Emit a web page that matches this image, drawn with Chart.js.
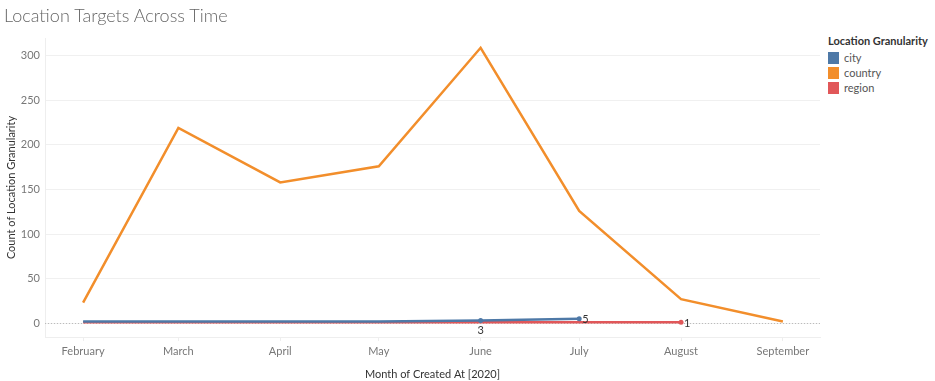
<!DOCTYPE html>
<html>
<head>
<meta charset="utf-8">
<script src="https://cdn.jsdelivr.net/npm/chart.js@4"></script>
<style>
  body { margin: 0; background: #fff; font-family: Lato, "Open Sans", sans-serif; }
  #wrap { position: relative; width: 935px; height: 381px; overflow: hidden; }
  #title { position: absolute; left: 4px; top: 4px; font-size: 18px; color: #666; font-weight: 300; }
  #chartBox { position: absolute; left: 0; top: 0; width: 822px; height: 381px; }
  #legend { position: absolute; left: 828px; top: 34px; font-size: 11px; color: #555; }
  #legend .head { font-weight: bold; color: #333; margin-bottom: 3px; }
  #legend .item { display: flex; align-items: center; height: 15px; }
  #legend .sw { width: 11px; height: 12px; margin-right: 5px; }
</style>
</head>
<body>
<div id="wrap">
  <div id="chartBox"><canvas id="trendChart" width="822" height="381"></canvas></div>
  <div id="title">Location Targets Across Time</div>
  <div id="legend"></div>
</div>
<script>
// Months and their day-of-year offset (2020) so the axis spacing follows calendar days
const months = ['February', 'March', 'April', 'May', 'June', 'July', 'August', 'September'];
const monthDays = [31, 60, 91, 121, 152, 182, 213, 244];

const cityCounts = [2, 2, 2, 2, 3, 5, null, null];
const countryCounts = [23, 219, 158, 176, 309, 126, 27, 2];
const regionCounts = [1, 1, 1, 1, 1, 1, 1, null];

// which points get a visible value label
const cityLabels = [false, false, false, false, true, true, false, false];
const regionLabels = [false, false, false, false, false, false, true, false];

const yTicks = [0, 50, 100, 150, 200, 250, 300];

const seriesNames = ['city', 'country', 'region'];
const seriesColors = ['#4e79a7', '#f28e2b', '#e15759'];

function toPoints(values) {
    return values.map((v, i) => ({ x: monthDays[i], y: v }));
}

// legend
const legend = document.getElementById('legend');
legend.innerHTML = '<div class="head">Location Granularity</div>' +
    seriesNames.map((n, i) => `<div class="item"><span class="sw" style="background:${seriesColors[i]}"></span>${n}</div>`).join('');

// draws the small value labels next to marked points
const valueLabels = {
    id: 'valueLabels',
    afterDatasetsDraw(chart) {
        const ctx = chart.ctx;
        ctx.save();
        ctx.font = '11px Lato, sans-serif';
        ctx.fillStyle = '#333';
        chart.data.datasets.forEach((ds, di) => {
            if (!ds.showLabels) return;
            const meta = chart.getDatasetMeta(di);
            meta.data.forEach((pt, i) => {
                if (!ds.showLabels[i]) return;
                const v = ds.data[i].y;
                if (ds.labelBelow && ds.labelBelow[i]) {
                    ctx.textAlign = 'center';
                    ctx.textBaseline = 'top';
                    ctx.fillText(v, pt.x, pt.y + 4);
                } else {
                    ctx.textAlign = 'left';
                    ctx.textBaseline = 'middle';
                    ctx.fillText(v, pt.x + 3, pt.y + 1);
                }
            });
        });
        ctx.restore();
    }
};

const ctx = document.getElementById('trendChart').getContext('2d');
new Chart(ctx, {
    type: 'line',
    data: {
        datasets: [
            {
                label: 'region',
                data: toPoints(regionCounts),
                borderColor: seriesColors[2],
                backgroundColor: seriesColors[2],
                borderWidth: 2.5,
                pointRadius: regionLabels.map(s => s ? 2.5 : 0),
                pointBorderWidth: 0,
                showLabels: regionLabels,
                order: 3
            },
            {
                label: 'city',
                data: toPoints(cityCounts),
                borderColor: seriesColors[0],
                backgroundColor: seriesColors[0],
                borderWidth: 2.5,
                pointRadius: cityLabels.map(s => s ? 2.5 : 0),
                pointBorderWidth: 0,
                showLabels: cityLabels,
                labelBelow: [false, false, false, false, true, false, false, false],
                order: 2
            },
            {
                label: 'country',
                data: toPoints(countryCounts),
                borderColor: seriesColors[1],
                backgroundColor: seriesColors[1],
                borderWidth: 2.5,
                pointRadius: 0,
                order: 1
            }
        ]
    },
    options: {
        responsive: false,
        animation: false,
        maintainAspectRatio: false,
        spanGaps: false,
        layout: { padding: { top: 38, right: 2, bottom: 0, left: 5 } },
        plugins: { legend: { display: false }, tooltip: { enabled: false } },
        scales: {
            x: {
                type: 'linear',
                min: 19.4,
                max: 255.3,
                afterBuildTicks: s => { s.ticks = monthDays.map(v => ({ value: v })); },
                afterFit: s => { s.height = 44; },
                ticks: {
                    autoSkip: false,
                    maxRotation: 0,
                    padding: 4,
                    color: '#777',
                    font: { family: 'Lato, sans-serif', size: 11 },
                    callback: v => months[monthDays.indexOf(v)]
                },
                grid: { drawOnChartArea: false, tickLength: 4, color: '#eee' },
                border: { color: '#eee' },
                title: {
                    display: true,
                    text: 'Month of Created At [2020]',
                    color: '#333',
                    padding: { top: 2, bottom: 0 },
                    font: { family: 'Lato, sans-serif', size: 11 }
                }
            },
            y: {
                min: -15.5,
                max: 320,
                afterBuildTicks: s => { s.ticks = yTicks.map(v => ({ value: v })); },
                afterFit: s => { s.width = 40; },
                ticks: {
                    padding: 5,
                    color: '#777',
                    font: { family: 'Lato, sans-serif', size: 11 }
                },
                grid: {
                    drawTicks: false,
                    color: '#f0f0f0',
                    lineWidth: 1
                },
                border: { display: true, color: '#eee' },
                title: {
                    display: true,
                    text: 'Count of Location Granularity',
                    color: '#333',
                    padding: { top: 0, bottom: 4 },
                    font: { family: 'Lato, sans-serif', size: 11 }
                }
            }
        }
    },
    plugins: [valueLabels, {
        // dotted zero reference line
        id: 'zeroLine',
        beforeDatasetsDraw(chart) {
            const { ctx, chartArea, scales } = chart;
            const y0 = scales.y.getPixelForValue(0);
            ctx.save();
            ctx.strokeStyle = '#bbb';
            ctx.lineWidth = 1;
            ctx.setLineDash([1, 2]);
            ctx.beginPath();
            ctx.moveTo(chartArea.left, Math.round(y0) + 0.5);
            ctx.lineTo(chartArea.right, Math.round(y0) + 0.5);
            ctx.stroke();
            ctx.restore();
        }
    }]
});
</script>
</body>
</html>
